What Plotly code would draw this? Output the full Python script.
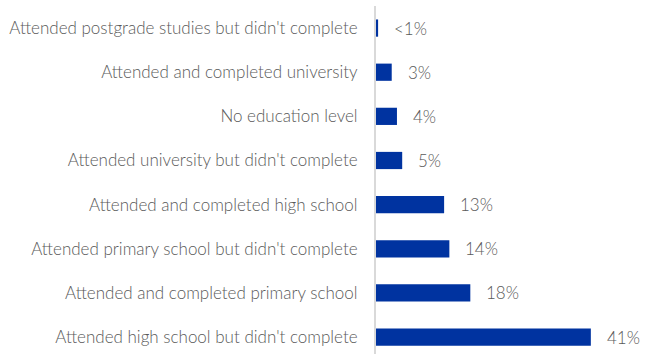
import plotly.graph_objects as go

categories = [
    "Attended postgrade studies but didn't complete",
    "Attended and completed university",
    "No education level",
    "Attended university but didn't complete",
    "Attended and completed high school",
    "Attended primary school but didn't complete",
    "Attended and completed primary school",
    "Attended high school but didn't complete",
]
values = [0.4, 3, 4, 5, 13, 14, 18, 41]
labels = ["<1%", "3%", "4%", "5%", "13%", "14%", "18%", "41%"]

FONT = dict(family="Lato", size=17, color="#5a5a5a", weight=300)

fig = go.Figure()
fig.add_trace(go.Bar(
    y=categories, x=values, orientation="h",
    marker=dict(color="#0033A0", line=dict(width=0)),
    hoverinfo="skip",
))
for c, v, t in zip(categories, values, labels):
    fig.add_annotation(x=v, y=c, text=t, showarrow=False, xanchor="left",
                       xshift=14, font=FONT)

fig.update_layout(
    width=653, height=354,
    margin=dict(l=376, r=15, t=6, b=0, autoexpand=False),
    paper_bgcolor="white", plot_bgcolor="white",
    bargap=0.61,
    showlegend=False,
    font=FONT,
)
fig.update_xaxes(range=[0, 50], showgrid=False, zeroline=False, showticklabels=False,
                 showline=False, automargin=False)
fig.update_yaxes(range=[7.384, -0.5], showgrid=False, zeroline=False, automargin=False,
                 showline=True, linecolor="#d9d9d9", linewidth=2, ticks="",
                 ticklabelstandoff=13, tickfont=FONT)

fig.write_html("out.html", config={"displayModeBar": False},
               post_script="document.body.style.margin='0';")
